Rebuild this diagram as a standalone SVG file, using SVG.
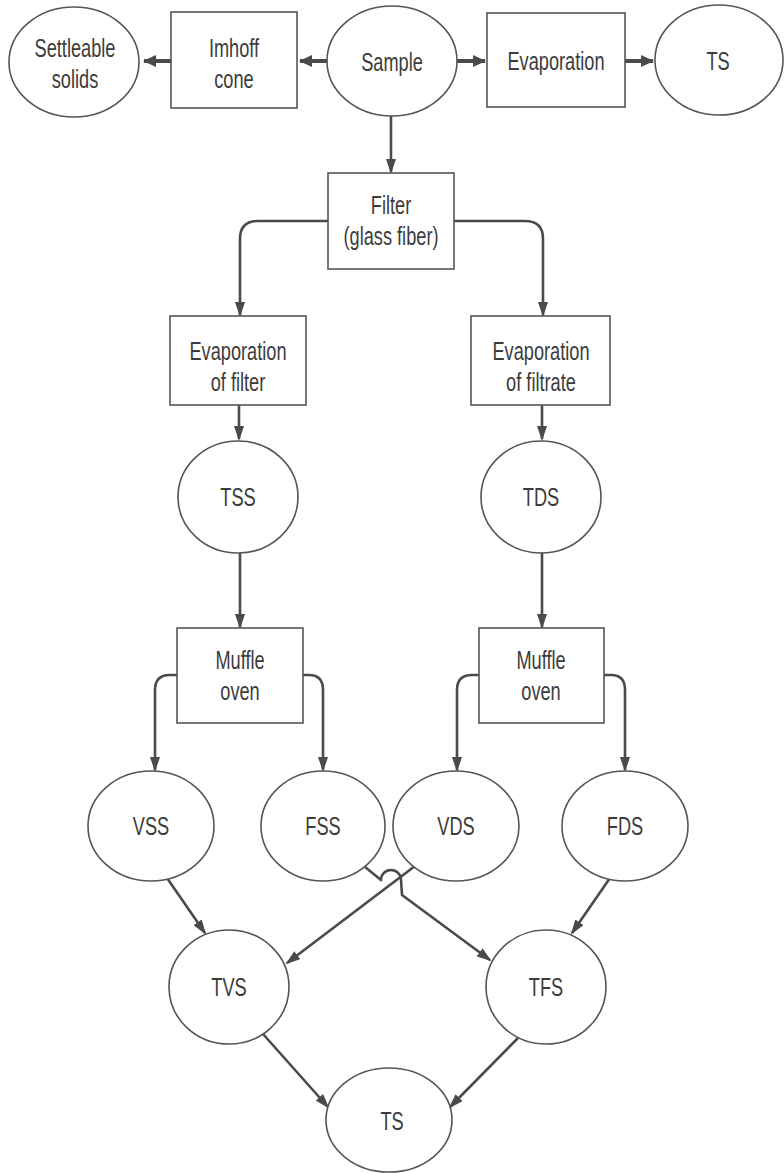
<svg xmlns="http://www.w3.org/2000/svg" width="784" height="1173" viewBox="0 0 784 1173">
<defs>
<style>
.n{fill:#fff;stroke:#555;stroke-width:1.6}
.t{font-family:"Liberation Sans",Arial,sans-serif;font-size:26px;fill:#3c3c3c;text-anchor:middle}
.c{fill:none;stroke:#4a4a4a;stroke-width:2.6;stroke-linejoin:round}
.ct{fill:none;stroke:#4a4a4a;stroke-width:4}
</style>
<marker id="ah" markerUnits="userSpaceOnUse" markerWidth="15" markerHeight="10" viewBox="0 0 15 10" refX="13" refY="5" orient="auto">
<path d="M0,0 L15,5 L0,10 Z" fill="#4a4a4a"/>
</marker>
<marker id="ahb" markerUnits="userSpaceOnUse" markerWidth="13" markerHeight="12" viewBox="0 0 13 12" refX="12" refY="6" orient="auto">
<path d="M0,0 L13,6 L0,12 Z" fill="#4a4a4a"/>
</marker>
</defs>
<rect width="784" height="1173" fill="#fff"/>

<g id="connectors">
<path class="ct" d="M171,61 H144" marker-end="url(#ahb)"/>
<path class="ct" d="M327,61 H300" marker-end="url(#ahb)"/>
<path class="ct" d="M457,61 H485" marker-end="url(#ahb)"/>
<path class="ct" d="M625,61 H653" marker-end="url(#ahb)"/>
<path class="c" d="M391,115 V172" marker-end="url(#ah)"/>
<path class="c" d="M328,221 H258 Q240,221 240,239 V315" marker-end="url(#ah)"/>
<path class="c" d="M454,221 H525 Q543,221 543,239 V315" marker-end="url(#ah)"/>
<path class="c" d="M239,405 V439" marker-end="url(#ah)"/>
<path class="c" d="M542,405 V439" marker-end="url(#ah)"/>
<path class="c" d="M240,553 V627" marker-end="url(#ah)"/>
<path class="c" d="M542,553 V627" marker-end="url(#ah)"/>
<path class="c" d="M177,675 H170 Q155,675 155,690 V770" marker-end="url(#ah)"/>
<path class="c" d="M303,675 H309 Q323,675 323,690 V770" marker-end="url(#ah)"/>
<path class="c" d="M479,675 H472 Q457,675 457,690 V770" marker-end="url(#ah)"/>
<path class="c" d="M604,675 H611 Q625,675 625,690 V770" marker-end="url(#ah)"/>
<path class="c" d="M167,878 L205,933" marker-end="url(#ah)"/>
<path class="c" d="M415,866 L287,963" marker-end="url(#ah)"/>
<path class="c" d="M365,867 L381,880 A10,10 0 0 1 401,880 L402,895 L490,960" marker-end="url(#ah)"/>
<path class="c" d="M610,878 L572,933" marker-end="url(#ah)"/>
<path class="c" d="M263,1034 L328,1107" marker-end="url(#ah)"/>
<path class="c" d="M518,1038 L450,1107" marker-end="url(#ah)"/>
</g>

<g id="settleable"><ellipse class="n" cx="74" cy="62" rx="65" ry="55"/><text class="t" transform="translate(75,57) scale(0.7,1)">Settleable</text><text class="t" transform="translate(75,88) scale(0.7,1)">solids</text></g>
<g id="imhoff"><rect class="n" x="171" y="12" width="126" height="96"/><text class="t" transform="translate(234,57) scale(0.7,1)">Imhoff</text><text class="t" transform="translate(234,88) scale(0.7,1)">cone</text></g>
<g id="sample"><ellipse class="n" cx="392" cy="61" rx="65" ry="55"/><text class="t" transform="translate(392,71) scale(0.7,1)">Sample</text></g>
<g id="evaporation"><rect class="n" x="487" y="13" width="138" height="94"/><text class="t" transform="translate(556,70) scale(0.7,1)">Evaporation</text></g>
<g id="ts-top"><ellipse class="n" cx="719" cy="60" rx="64" ry="55"/><text class="t" transform="translate(718,70) scale(0.7,1)">TS</text></g>

<g id="filter"><rect class="n" x="328" y="173" width="126" height="96"/><text class="t" transform="translate(391,214) scale(0.7,1)">Filter</text><text class="t" transform="translate(391,245) scale(0.7,1)">(glass fiber)</text></g>

<g id="evap-filter"><rect class="n" x="170" y="316" width="136" height="89"/><text class="t" transform="translate(238,360) scale(0.7,1)">Evaporation</text><text class="t" transform="translate(238,391) scale(0.7,1)">of filter</text></g>
<g id="evap-filtrate"><rect class="n" x="471" y="316" width="139" height="89"/><text class="t" transform="translate(541,360) scale(0.7,1)">Evaporation</text><text class="t" transform="translate(541,391) scale(0.7,1)">of filtrate</text></g>

<g id="tss"><ellipse class="n" cx="238" cy="497" rx="60" ry="56"/><text class="t" transform="translate(238,506) scale(0.7,1)">TSS</text></g>
<g id="tds"><ellipse class="n" cx="541" cy="497" rx="60" ry="56"/><text class="t" transform="translate(541,506) scale(0.7,1)">TDS</text></g>

<g id="muffle-left"><rect class="n" x="177" y="628" width="126" height="95"/><text class="t" transform="translate(240,669) scale(0.7,1)">Muffle</text><text class="t" transform="translate(240,700) scale(0.7,1)">oven</text></g>
<g id="muffle-right"><rect class="n" x="479" y="628" width="125" height="95"/><text class="t" transform="translate(541,669) scale(0.7,1)">Muffle</text><text class="t" transform="translate(541,700) scale(0.7,1)">oven</text></g>

<g id="vss"><ellipse class="n" cx="151" cy="826" rx="63" ry="55"/><text class="t" transform="translate(151,835) scale(0.7,1)">VSS</text></g>
<g id="fss"><ellipse class="n" cx="323" cy="826" rx="62" ry="55"/><text class="t" transform="translate(323,835) scale(0.7,1)">FSS</text></g>
<g id="vds"><ellipse class="n" cx="456" cy="826" rx="63" ry="55"/><text class="t" transform="translate(456,835) scale(0.7,1)">VDS</text></g>
<g id="fds"><ellipse class="n" cx="625" cy="826" rx="63" ry="55"/><text class="t" transform="translate(625,835) scale(0.7,1)">FDS</text></g>

<g id="tvs"><ellipse class="n" cx="229" cy="987" rx="60" ry="57"/><text class="t" transform="translate(229,996) scale(0.7,1)">TVS</text></g>
<g id="tfs"><ellipse class="n" cx="546" cy="987" rx="60" ry="57"/><text class="t" transform="translate(546,996) scale(0.7,1)">TFS</text></g>

<g id="ts-bottom"><ellipse class="n" cx="389" cy="1120" rx="63" ry="52"/><text class="t" transform="translate(392,1130) scale(0.7,1)">TS</text></g>
</svg>
